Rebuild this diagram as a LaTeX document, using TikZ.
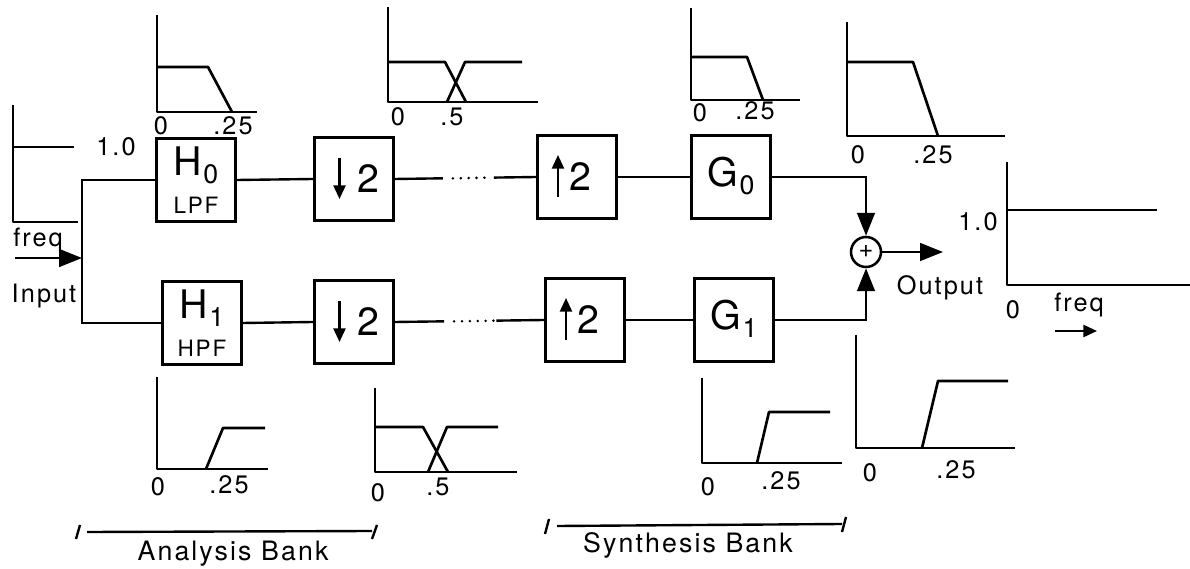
\documentclass[tikz,border=0pt]{standalone}
\usepackage{fontspec}
\setsansfont{TeX Gyre Heros}[LetterSpace=8]
\usetikzlibrary{arrows.meta,positioning,calc}
\newcommand{\fsz}[1]{\fontsize{#1}{#1}\selectfont}
\newcommand{\sublab}[2]{{\fsz{28}#1\kern1pt\raisebox{-0.4ex}{\fsz{19}#2}}}
\tikzset{
  fbox/.style={draw,line width=1.9pt,minimum width=1.975cm,minimum height=2.075cm,inner sep=0pt,align=center},
  wire/.style={line width=1.7pt},
  sigplot/.style={line width=1.9pt,line join=round},
  bigtip/.style={-{Triangle[length=0.57cm,width=0.44cm]}},
  smalltip/.style={-{Triangle[length=0.34cm,width=0.3cm]}},
  gapdots/.style={line width=2pt,line cap=round,dash pattern=on 0pt off 5.6pt},
  ticklab/.style={font=\sffamily\fsz{18}},
  sidelab/.style={font=\sffamily\fsz{18}},
  banklab/.style={font=\sffamily\fsz{19}}
}
\begin{document}
\begin{tikzpicture}[x=0.025cm,y=-0.025cm,font=\sffamily]
  \useasboundingbox (0,0) rectangle (1190,569);
  % filter and rate-change boxes
  \node[fbox] (h0) at (196,180) {\sublab{H}{0}\\[8pt]{\fsz{16}LPF}};
  \node[fbox] (h1) at (202,323) {\sublab{H}{1}\\[8pt]{\fsz{16}HPF}};
  \node[fbox] (d0) at (354,179) {\hspace*{0.72cm}\raisebox{-0.15cm}{\fsz{28}2}};
  \node[fbox] (d1) at (354,322) {\hspace*{0.72cm}\raisebox{-0.15cm}{\fsz{28}2}};
  \node[fbox] (u0) at (577,177) {\hspace*{0.15cm}\fsz{28}2};
  \node[fbox] (u1) at (585,320) {\hspace*{0.15cm}\fsz{28}2};
  \node[fbox] (g0) at (731,177) {\raisebox{0.25cm}{\sublab{G}{0}}};
  \node[fbox] (g1) at (734,320) {\raisebox{0.25cm}{\sublab{G}{1}}};
  \node[draw,circle,line width=1.8pt,minimum size=0.75cm,inner sep=0pt] (sum) at (866,252) {\fsz{18}+};
  % arrows inside the boxes
  \draw[wire,smalltip] ($(d0.center)+(-14.5,-21)$) -- ($(d0.center)+(-14.5,20)$);
  \draw[wire,smalltip] ($(d1.center)+(-14.5,-21)$) -- ($(d1.center)+(-14.5,20)$);
  \draw[wire,smalltip] ($(u0.center)+(-19,20)$) -- ($(u0.center)+(-19,-22)$);
  \draw[wire,smalltip] ($(u1.center)+(-19,20)$) -- ($(u1.center)+(-19,-22)$);
  % input fork
  \coordinate (fork0) at (82,180);
  \coordinate (fork1) at (82,323);
  \coordinate (instart) at (15,258);
  \draw[wire] (h0.west) -- (fork0) -- (fork1) -- (h1.west);
  \draw[wire,bigtip] (instart) -- (instart -| fork0);
  \node[sidelab] (freqin) at (38,240) {freq};
  \node[sidelab] (inlab) at (44,296) {Input};
  % chains
  \draw[wire] (h0.east) -- (d0.west);
  \draw[wire] (h1.east) -- (d1.west);
  \coordinate (gap0a) at ($(d0.east)!0.34!(u0.west)$);
  \coordinate (gap0b) at ($(d0.east)!0.70!(u0.west)$);
  \coordinate (gap1a) at ($(d1.east)!0.33!(u1.west)$);
  \coordinate (gap1b) at ($(d1.east)!0.68!(u1.west)$);
  \draw[wire] (d0.east) -- (gap0a);
  \draw[gapdots] ($(gap0a)+(10,0)$) -- ($(gap0b)+(-2,0)$);
  \draw[wire] (gap0b) -- (u0.west);
  \draw[wire] (d1.east) -- (gap1a);
  \draw[gapdots] ($(gap1a)+(10,0)$) -- ($(gap1b)+(-2,0)$);
  \draw[wire] (gap1b) -- (u1.west);
  \draw[wire] (u0.east) -- (g0.west);
  \draw[wire] (u1.east) -- (g1.west);
  % summing junction
  \draw[wire,bigtip] (g0.east) -| (sum.north);
  \draw[wire,bigtip] (g1.east) -| (sum.south);
  \coordinate (outend) at (943,252);
  \draw[wire,bigtip] (sum.east) -- (outend);
  \node[sidelab] (outlab) at (940,288) {Output};
  % input spectrum
  \draw[sigplot] (13,105) -- (13,222) -- (78,222);
  \draw[sigplot] (13,147) -- (74,147);
  \node[ticklab] (inone) at (116,147) {1.0};
  % output spectrum
  \draw[sigplot] (1007,162) -- (1007,285) -- (1190,285);
  \draw[sigplot] (1007,210) -- (1157,210);
  \node[ticklab] (outone) at (978,222) {1.0};
  \node[ticklab] (outzero) at (1013,310) {0};
  \node[sidelab] (freqout) at (1079,305) {freq};
  \coordinate (fa) at (1055,331);
  \coordinate (fb) at (1097,331);
  \draw[wire,smalltip] (fa) -- (fb);
  % spectra above
  \draw[sigplot] (157,15) -- (157,112) -- (257,112);
  \draw[sigplot] (157,67) -- (208,67) -- (232,112);
  \node[ticklab] (a0) at (161,126) {0};
  \node[ticklab] (a1) at (233,126) {.25};
  \draw[sigplot] (388,7) -- (388,102) -- (538,102);
  \draw[sigplot] (388,62) -- (445,62) -- (466,102);
  \draw[sigplot] (447,102) -- (465,62) -- (522,62);
  \node[ticklab] (b0) at (398,117) {0};
  \node[ticklab] (b1) at (452,117) {.5};
  \draw[sigplot] (691,8) -- (691,100) -- (800,100);
  \draw[sigplot] (691,57) -- (747,57) -- (763,100);
  \node[ticklab] (c0) at (700,113) {0};
  \node[ticklab] (c1) at (755,111) {.25};
  \draw[sigplot] (847,22) -- (847,136) -- (1005,136);
  \draw[sigplot] (847,62) -- (913,62) -- (938,136);
  \node[ticklab] (e0) at (858,155) {0};
  \node[ticklab] (e1) at (933,155) {.25};
  % spectra below
  \draw[sigplot] (157,377) -- (157,469) -- (268,469);
  \draw[sigplot] (206,469) -- (223,428) -- (265,428);
  \node[ticklab] (f0) at (158,487) {0};
  \node[ticklab] (f1) at (229,485) {.25};
  \draw[sigplot] (375,388) -- (375,472) -- (517,472);
  \draw[sigplot] (375,427) -- (423,427) -- (448,472);
  \draw[sigplot] (428,472) -- (447,427) -- (498,427);
  \node[ticklab] (k0) at (378,493) {0};
  \node[ticklab] (k1) at (438,487) {.5};
  \draw[sigplot] (702,378) -- (702,463) -- (842,463);
  \draw[sigplot] (757,463) -- (769,412) -- (830,412);
  \node[ticklab] (m0) at (708,487) {0};
  \node[ticklab] (m1) at (781,481) {.25};
  \draw[sigplot] (856,335) -- (856,448) -- (1015,448);
  \draw[sigplot] (922,448) -- (938,381) -- (1008,381);
  \node[ticklab] (n0) at (870,473) {0};
  \node[ticklab] (n1) at (956,470) {.25};
  % bank brackets
  \draw[wire] (87,532) -- (372,531);
  \draw[wire] (76,539) -- (80,525);
  \draw[wire] (372,539) -- (377,525);
  \node[banklab] (anabank) at (233,554) {Analysis Bank};
  \draw[wire] (557,526) -- (842,524);
  \draw[wire] (545,534) -- (549,519);
  \draw[wire] (842,532) -- (846,517);
  \node[banklab] (synbank) at (688,545) {Synthesis Bank};
\end{tikzpicture}
\end{document}
